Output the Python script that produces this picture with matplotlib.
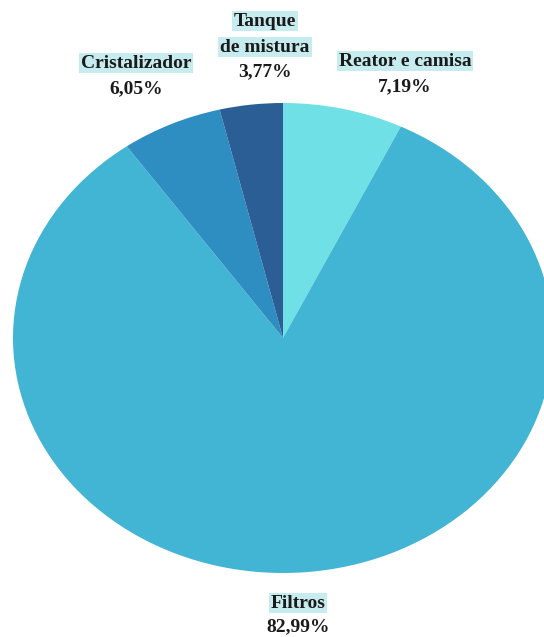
import matplotlib
matplotlib.use("Agg")
import matplotlib.pyplot as plt

labels = ["Reator e camisa", "Filtros", "Cristalizador", "Tanque\nde mistura"]
values = [7.19, 82.99, 6.05, 3.77]
pct_text = ["7,19%", "82,99%", "6,05%", "3,77%"]
colors = ["#6EE0E6", "#42B4D4", "#2F8EC1", "#2C5E96"]

W, H = 544, 637
fig = plt.figure(figsize=(W / 100, H / 100), dpi=100)
ax = fig.add_axes([0, 0, 1, 1])
cx, cy = 283, 338
rx, ry = 270, 235
ax.pie(values, colors=colors, startangle=90, counterclock=False,
       wedgeprops=dict(linewidth=0))
ax.set_aspect("auto")
ax.set_xlim(-cx / rx, (W - cx) / rx)
ax.set_ylim(-(H - cy) / ry, cy / ry)
ax.axis("off")

font = dict(family="Liberation Serif", weight="bold", fontsize=14, color="#1a1a1a")
box = dict(boxstyle="square,pad=0.1", facecolor="#C6ECEF", edgecolor="none")

def put(x, y, s, boxed):
    fig.text(x / W, 1 - y / H, s, ha="center", va="center",
             bbox=box if boxed else None, **font)

# label positions in pixels (x, y of name lines, y of percentage)
pos = {
    0: (405, [61], 87),
    1: (298, [603], 627),
    2: (136, [63], 89),
    3: (265, [21, 47], 72),
}
for i, lab in enumerate(labels):
    x, ys, yp = pos[i]
    for line, y in zip(lab.split("\n"), ys):
        put(x, y, line, True)
    put(x, yp, pct_text[i], False)

fig.savefig("out.png", dpi=100, facecolor="white")
